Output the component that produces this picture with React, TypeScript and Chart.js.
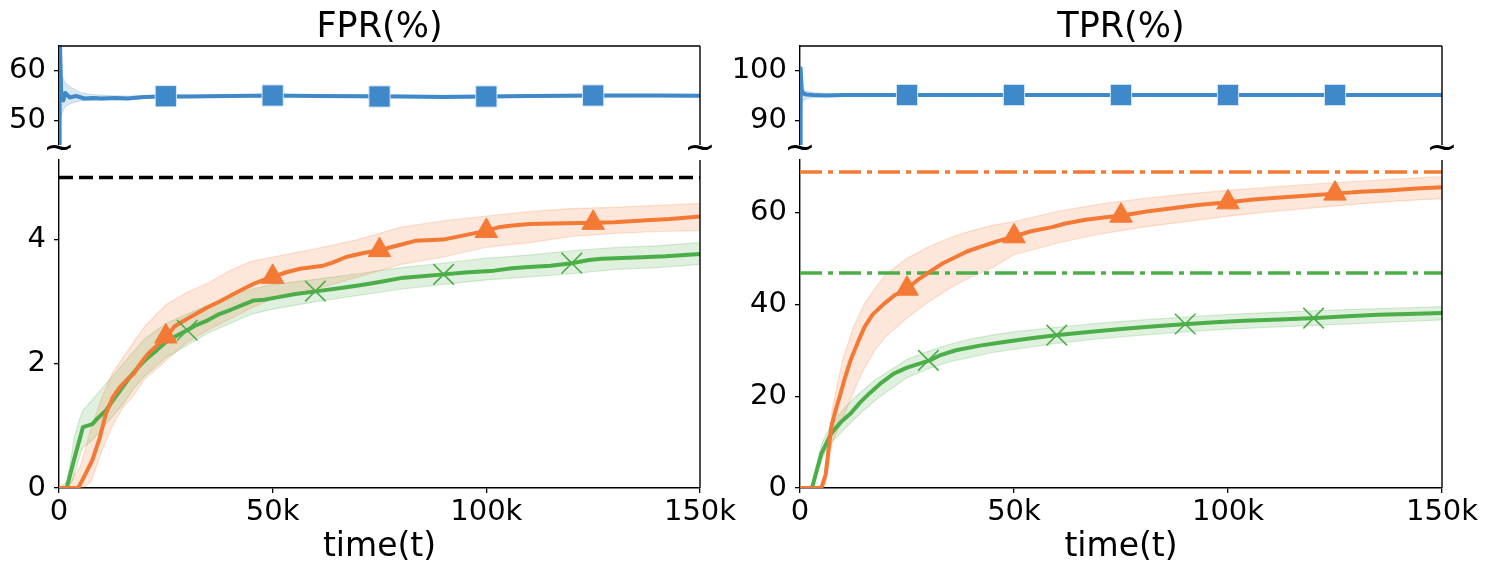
import React, { useEffect, useRef } from "react";
import { Chart, registerables } from "chart.js";
Chart.register(...registerables);

const FONT = "'DejaVu Sans', sans-serif";
const BLUE = "#3F88C9";
const ORANGE = "#F47935";
const GREEN = "#4CAE49";
const BLUE_BAND = "rgba(63,136,201,0.2)";
const ORANGE_BAND = "rgba(244,121,53,0.18)";
const GREEN_BAND = "rgba(76,174,73,0.18)";
const ORANGE_EDGE = "rgba(244,121,53,0.22)";
const GREEN_EDGE = "rgba(76,174,73,0.22)";
const BLUE_EDGE = "rgba(63,136,201,0.2)";

// ---------- tick labels ----------
const TIME_TICKS = [0, 50000, 100000, 150000];
const FPR_TOP_TICKS = [50, 60];
const TPR_TOP_TICKS = [90, 100];
const FPR_TICKS = [0, 2, 4];
const TPR_TICKS = [0, 20, 40, 60];

// ---------- marker positions (k) ----------
const markerTimeSquare = [25, 50, 75, 100, 125];
const markerTimeTri = [25, 50, 75, 100, 125];
const markerTimeCross = [30, 60, 90, 120];

// ---------- FPR top (blue) ----------
const fprBlueT = [0, 0.15, 0.5, 1.0, 1.5, 2.5, 4, 6, 8, 10, 13, 16, 20, 25, 30, 40, 50, 60, 70, 80, 90, 100, 110, 125, 140, 150];
const fprBlueV = [40, 68, 56.0, 54.0, 55.5, 54.6, 54.9, 54.4, 54.5, 54.4, 54.5, 54.4, 54.7, 54.85, 54.8, 54.9, 55.0, 54.9, 54.85, 54.8, 54.7, 54.8, 54.9, 55.0, 55.0, 54.95];
const fprBlueBandT = [0, 0.5, 1, 1.5, 3, 5, 8, 12, 16, 20, 30, 50, 100, 150];
const fprBlueUpper = [65, 59, 58.5, 57.5, 56.5, 55.6, 55.2, 55.0, 54.9, 55.0, 55.05, 55.2, 55.05, 55.15];
const fprBlueLower = [45, 51, 52, 52.8, 53.5, 53.9, 54.0, 54.1, 54.1, 54.4, 54.55, 54.8, 54.55, 54.75];
const fprBlueMarkers = [54.85, 55.0, 54.8, 54.8, 55.0];

// ---------- TPR top (blue) ----------
const tprBlueT = [0, 0.15, 0.4, 0.8, 1.5, 3, 6, 10, 20, 25, 50, 75, 100, 125, 150];
const tprBlueV = [80, 100.5, 96.0, 95.4, 95.2, 95.1, 95.0, 95.1, 95.1, 95.1, 95.1, 95.1, 95.1, 95.1, 95.1];
const tprBlueBandT = [0, 0.5, 1, 3, 6, 10, 20, 150];
const tprBlueUpper = [100, 97, 96, 95.6, 95.4, 95.3, 95.25, 95.2];
const tprBlueLower = [88, 93.5, 94.2, 94.6, 94.7, 94.8, 94.95, 95.0];
const tprBlueMarkers = [95.1, 95.1, 95.1, 95.1, 95.1];

// ---------- FPR bottom ----------
const FPR_TARGET = 5;
const fprOrangeT = [0, 4.5, 6, 7.8, 9.5, 11, 12.5, 14.3, 16, 17.5, 19, 20.8, 23, 25, 27, 29.4, 32, 34.8, 37.5, 40.2, 43, 45.6, 48, 50, 53, 56.4, 61.8, 64, 67.2, 71, 75, 79, 83.4, 89.9, 94.2, 97, 100, 103, 105, 110, 115.8, 125, 130, 137.4, 143, 150];
const fprOrangeV = [0, 0, 0.2, 0.45, 0.8, 1.2, 1.45, 1.63, 1.75, 1.84, 2.0, 2.16, 2.3, 2.42, 2.6, 2.7, 2.8, 2.91, 3.0, 3.1, 3.2, 3.29, 3.35, 3.4, 3.47, 3.53, 3.58, 3.63, 3.72, 3.78, 3.83, 3.9, 3.98, 4.0, 4.06, 4.1, 4.14, 4.2, 4.22, 4.25, 4.26, 4.27, 4.28, 4.31, 4.33, 4.37];
const fprGreenT = [0, 1.8, 3.5, 5.6, 7.8, 9, 11, 12.5, 14.3, 16.5, 18.6, 20.5, 22.9, 25, 27.5, 30, 32, 34.8, 37.5, 40.2, 43, 45.6, 48, 51, 55, 60.5, 66, 70, 72.6, 76, 80, 85, 90, 95, 101.8, 106, 110, 115, 120, 124, 127, 135, 142, 150];
const fprGreenV = [0, 0, 0.45, 0.98, 1.03, 1.12, 1.25, 1.4, 1.57, 1.78, 1.95, 2.08, 2.22, 2.35, 2.45, 2.54, 2.62, 2.7, 2.8, 2.87, 2.95, 3.02, 3.03, 3.07, 3.12, 3.17, 3.22, 3.26, 3.29, 3.33, 3.38, 3.41, 3.44, 3.47, 3.5, 3.54, 3.56, 3.58, 3.62, 3.67, 3.69, 3.71, 3.73, 3.77];
const fprBandT = [0, 1.8, 3, 3.5, 5, 5.6, 7.5, 10, 12.5, 15, 17.5, 20, 25, 30, 35, 40, 45, 50, 60, 70, 80, 90, 100, 110, 120, 130, 140, 150];
const fprOrangeUpper = [0, 0, 0.1, 0.2, 0.35, 0.5, 0.95, 1.45, 1.85, 2.1, 2.35, 2.6, 2.95, 3.15, 3.3, 3.5, 3.65, 3.72, 3.85, 4.0, 4.2, 4.3, 4.38, 4.45, 4.5, 4.52, 4.55, 4.58];
const fprOrangeLower = [0, 0, 0, 0, 0, 0, 0.1, 0.6, 1.0, 1.3, 1.5, 1.75, 2.05, 2.35, 2.55, 2.72, 2.9, 3.05, 3.2, 3.4, 3.6, 3.72, 3.88, 3.95, 4.05, 4.1, 4.13, 4.15];
const fprGreenUpper = [0, 0.1, 0.55, 0.8, 1.15, 1.25, 1.4, 1.6, 1.8, 2.0, 2.2, 2.4, 2.65, 2.8, 2.95, 3.1, 3.2, 3.28, 3.36, 3.45, 3.55, 3.62, 3.7, 3.75, 3.82, 3.87, 3.9, 3.95];
const fprGreenLower = [0, 0, 0.1, 0.2, 0.55, 0.65, 0.75, 0.95, 1.15, 1.35, 1.6, 1.8, 2.1, 2.3, 2.5, 2.65, 2.8, 2.88, 3.0, 3.1, 3.2, 3.28, 3.35, 3.4, 3.45, 3.52, 3.55, 3.6];
const fprOrangeMarkers = [2.44, 3.4, 3.83, 4.14, 4.27];
const fprGreenMarkers = [2.54, 3.17, 3.44, 3.62];

// ---------- TPR bottom ----------
const TPR_ORANGE_REF = 68.8;
const TPR_GREEN_REF = 46.8;
const tprOrangeT = [0, 5, 6, 7.3, 8.5, 9.5, 10.5, 11.8, 13.5, 15.1, 17, 19.6, 22, 25, 27.5, 30.8, 33.5, 36.4, 39, 42.1, 46, 50, 54, 58.9, 62, 66.7, 71, 75.7, 81, 86.9, 93, 100, 106, 113, 119, 125, 131, 137.4, 144, 150];
const tprOrangeV = [0, 0, 3, 13.3, 17.5, 20.6, 24, 27.8, 31.7, 35.1, 37.8, 40.1, 41.9, 43.4, 45.3, 47.4, 49, 50.3, 51.5, 52.5, 53.7, 54.8, 55.9, 56.8, 57.6, 58.4, 58.9, 59.4, 60.2, 60.9, 61.6, 62.2, 62.8, 63.3, 63.7, 64.1, 64.5, 64.8, 65.2, 65.5];
const tprGreenT = [0, 2.8, 5, 7.3, 9.5, 11.8, 14, 16.2, 19, 21.9, 25, 30.3, 33, 36.4, 42, 47.7, 54, 60.3, 68, 75.7, 83, 90.6, 97, 103.7, 112, 120.6, 128, 135, 142, 150];
const tprGreenV = [0, 0, 7.5, 11.9, 14.3, 16.2, 18.6, 20.6, 22.9, 24.9, 26.2, 27.8, 29, 30, 31, 31.8, 32.6, 33.3, 34, 34.7, 35.2, 35.7, 36.1, 36.4, 36.7, 37, 37.4, 37.7, 37.9, 38.1];
const tprBandT = [0, 2.8, 5, 6, 7.5, 10, 12.5, 15, 17.5, 20, 25, 30, 35, 40, 45, 50, 60, 70, 80, 90, 100, 110, 120, 130, 140, 150];
const tprOrangeUpper = [0, 0, 0, 4, 17, 28, 35, 40, 43.5, 46.5, 50, 52.5, 54.5, 56, 57.2, 58, 60.2, 61.8, 63, 64, 64.8, 65.5, 66.2, 66.8, 67.3, 67.8];
const tprOrangeLower = [0, 0, 0, 1, 10, 15, 21, 26, 30, 33, 37, 40.5, 43.5, 46, 48, 50.8, 53.3, 55.3, 56.8, 58, 59.2, 60.2, 61, 61.8, 62.5, 63];
const tprGreenUpper = [0, 0.5, 9.5, 11.5, 14, 17, 19.5, 21.5, 23.5, 25, 28, 29.8, 31.3, 32.5, 33.3, 34, 35, 35.9, 36.6, 37.2, 37.8, 38.2, 38.6, 38.9, 39.2, 39.5];
const tprGreenLower = [0, 0, 6, 8, 10, 12.5, 14.8, 17, 19, 20.8, 24, 26, 27.5, 28.5, 29.5, 30.2, 31.5, 32.5, 33.3, 34, 34.6, 35, 35.4, 35.8, 36.2, 36.6];
const tprOrangeMarkers = [43.4, 54.8, 59.3, 62.2, 64.1];
const tprGreenMarkers = [27.8, 33.3, 35.7, 37.0];

// ---------- helpers ----------
const pts = (tk: number[], v: number[]) => tk.map((t, i) => ({ x: t * 1000, y: v[i] }));
const hline = (v: number) => [{ x: 0, y: v }, { x: 150000, y: v }];
const fmtTime = (v: number) => (v === 0 ? "0" : `${v / 1000}k`);

const lineDs = (data: any[], color: string, extra: any = {}) => ({
  data, borderColor: color, backgroundColor: color, borderWidth: 4, pointRadius: 0,
  tension: 0, fill: false, borderJoinStyle: "round", order: 1, ...extra,
});
const bandDs = (data: any[], edge: string, fillColor: string | null) => ({
  data, borderColor: edge, backgroundColor: fillColor || "rgba(0,0,0,0)", borderWidth: 1.2,
  pointRadius: 0, tension: 0, fill: fillColor ? "+1" : false, order: 3,
});
const markerDs = (data: any[], color: string, style: string, radius: number, extra: any = {}) => ({
  data, showLine: false, pointStyle: style, pointRadius: radius, borderColor: color,
  backgroundColor: color, pointBorderWidth: 1, order: 0, ...extra,
});

const framePlugin = (top: boolean, breaks: boolean) => ({
  id: "frame",
  afterDraw(chart: any) {
    const { ctx, chartArea: a } = chart;
    ctx.save();
    ctx.strokeStyle = "#000";
    ctx.lineWidth = 1.4;
    ctx.beginPath();
    if (top) { ctx.moveTo(a.left, a.top); ctx.lineTo(a.right, a.top); }
    ctx.moveTo(a.right, a.top); ctx.lineTo(a.right, a.bottom);
    ctx.stroke();
    if (breaks) {
      ctx.fillStyle = "#000";
      ctx.font = `38px ${FONT}`;
      ctx.textAlign = "center";
      ctx.textBaseline = "middle";
      ctx.fillText("~", a.left, a.bottom + 4);
      ctx.fillText("~", a.right, a.bottom + 4);
    }
    ctx.restore();
  },
});

type PanelOpts = {
  datasets: any[]; yMin: number; yMax: number; yTicks: number[]; yWidth: number;
  padRight: number; padTop: number; padBottom: number; showX: boolean; title?: string;
};

const makeConfig = (o: PanelOpts): any => ({
  type: "line",
  data: { datasets: o.datasets },
  options: {
    animation: false, responsive: true, maintainAspectRatio: false, events: [],
    layout: { padding: { top: o.padTop, right: o.padRight, bottom: o.padBottom, left: 0 } },
    plugins: {
      legend: { display: false }, tooltip: { enabled: false },
      title: o.title
        ? { display: true, text: o.title, fullSize: false, color: "#000",
            font: { family: FONT, size: 35, weight: "normal", lineHeight: 1 }, padding: { top: 10, bottom: 1 } }
        : { display: false },
    },
    scales: {
      x: {
        type: "linear", min: 0, max: 150000, display: o.showX,
        afterBuildTicks: (s: any) => { s.ticks = TIME_TICKS.map((v) => ({ value: v })); },
        afterFit: (s: any) => {
          if (o.showX) s.height = 87;
          s.paddingLeft = 0; s.paddingRight = 0;
        },
        ticks: { font: { family: FONT, size: 29 }, color: "#000", padding: 2, maxRotation: 0, autoSkip: false, callback: (v: any) => fmtTime(Number(v)) },
        grid: { display: true, drawOnChartArea: false, drawTicks: true, tickLength: 5, color: "#000", lineWidth: 1.3 },
        border: { display: true, color: "#000", width: 1.4 },
        title: { display: true, text: "time(t)", color: "#000", font: { family: FONT, size: 33 }, padding: { top: 0, bottom: 8 } },
      },
      y: {
        type: "linear", min: o.yMin, max: o.yMax,
        afterBuildTicks: (s: any) => { s.ticks = o.yTicks.map((v) => ({ value: v })); },
        afterFit: (s: any) => { s.width = o.yWidth; s.paddingTop = 0; s.paddingBottom = 0; },
        ticks: { font: { family: FONT, size: 29 }, color: "#000", padding: 8, autoSkip: false },
        grid: { display: true, drawOnChartArea: false, drawTicks: true, tickLength: 5, color: "#000", lineWidth: 1.3 },
        border: { display: true, color: "#000", width: 1.4 },
      },
    },
  },
  plugins: [framePlugin(!o.showX, !o.showX)],
});

// ---------- panel configs ----------
const fprTop = () => makeConfig({
  title: "FPR(%)", showX: false, yMin: 45, yMax: 65, yTicks: FPR_TOP_TICKS, yWidth: 59,
  padRight: 60, padTop: 0, padBottom: 25,
  datasets: [
    markerDs(pts(markerTimeSquare, fprBlueMarkers), BLUE, "rect", 15, { pointBorderColor: "rgba(220,235,250,0.9)" }),
    lineDs(pts(fprBlueT, fprBlueV), BLUE),
    bandDs(pts(fprBlueBandT, fprBlueUpper), BLUE_EDGE, BLUE_BAND),
    bandDs(pts(fprBlueBandT, fprBlueLower), BLUE_EDGE, null),
  ],
});

const tprTop = () => makeConfig({
  title: "TPR(%)", showX: false, yMin: 85, yMax: 105, yTicks: TPR_TOP_TICKS, yWidth: 80,
  padRight: 47, padTop: 0, padBottom: 25,
  datasets: [
    markerDs(pts(markerTimeSquare, tprBlueMarkers), BLUE, "rect", 15, { pointBorderColor: "rgba(220,235,250,0.9)" }),
    lineDs(pts(tprBlueT, tprBlueV), BLUE),
    bandDs(pts(tprBlueBandT, tprBlueUpper), BLUE_EDGE, BLUE_BAND),
    bandDs(pts(tprBlueBandT, tprBlueLower), BLUE_EDGE, null),
  ],
});

const fprBottom = () => makeConfig({
  showX: true, yMin: 0, yMax: 5.28, yTicks: FPR_TICKS, yWidth: 59,
  padRight: 60, padTop: 9, padBottom: 0,
  datasets: [
    markerDs(pts(markerTimeTri, fprOrangeMarkers), ORANGE, "triangle", 13),
    markerDs(pts(markerTimeCross, fprGreenMarkers), GREEN, "crossRot", 14.5, { pointBorderWidth: 1.6 }),
    lineDs(pts(fprOrangeT, fprOrangeV), ORANGE),
    lineDs(pts(fprGreenT, fprGreenV), GREEN),
    lineDs(hline(FPR_TARGET), "#000", { borderWidth: 3.5, borderDash: [14, 6], order: 2, borderCapStyle: "butt" }),
    bandDs(pts(fprBandT, fprOrangeUpper), ORANGE_EDGE, ORANGE_BAND),
    bandDs(pts(fprBandT, fprOrangeLower), ORANGE_EDGE, null),
    bandDs(pts(fprBandT, fprGreenUpper), GREEN_EDGE, GREEN_BAND),
    bandDs(pts(fprBandT, fprGreenLower), GREEN_EDGE, null),
  ],
});

const tprBottom = () => makeConfig({
  showX: true, yMin: 0, yMax: 71.4, yTicks: TPR_TICKS, yWidth: 80,
  padRight: 47, padTop: 9, padBottom: 0,
  datasets: [
    markerDs(pts(markerTimeTri, tprOrangeMarkers), ORANGE, "triangle", 13),
    markerDs(pts(markerTimeCross, tprGreenMarkers), GREEN, "crossRot", 14.5, { pointBorderWidth: 1.6 }),
    lineDs(pts(tprOrangeT, tprOrangeV), ORANGE),
    lineDs(pts(tprGreenT, tprGreenV), GREEN),
    lineDs(hline(TPR_ORANGE_REF), ORANGE, { borderWidth: 3.5, borderDash: [22, 6, 5, 6], order: 2, borderCapStyle: "butt" }),
    lineDs(hline(TPR_GREEN_REF), GREEN, { borderWidth: 3.5, borderDash: [22, 6, 5, 6], order: 2, borderCapStyle: "butt" }),
    bandDs(pts(tprBandT, tprOrangeUpper), ORANGE_EDGE, ORANGE_BAND),
    bandDs(pts(tprBandT, tprOrangeLower), ORANGE_EDGE, null),
    bandDs(pts(tprBandT, tprGreenUpper), GREEN_EDGE, GREEN_BAND),
    bandDs(pts(tprBandT, tprGreenLower), GREEN_EDGE, null),
  ],
});

function Panel({ make, left, top, width, height }: { make: () => any; left: number; top: number; width: number; height: number }) {
  const ref = useRef<HTMLCanvasElement>(null);
  useEffect(() => {
    const chart = new Chart(ref.current as HTMLCanvasElement, make());
    return () => chart.destroy();
  }, [make]);
  return (
    <div style={{ position: "absolute", left, top, width, height }}>
      <canvas ref={ref} />
    </div>
  );
}

export default function App() {
  return (
    <div style={{ position: "absolute", left: 0, top: 0, width: 1489, height: 575, overflow: "hidden", background: "#fff" }}>
      <Panel make={fprBottom} left={0} top={144} width={760} height={431} />
      <Panel make={tprBottom} left={720} top={144} width={769} height={431} />
      <Panel make={fprTop} left={0} top={0} width={760} height={170} />
      <Panel make={tprTop} left={720} top={0} width={769} height={170} />
    </div>
  );
}
